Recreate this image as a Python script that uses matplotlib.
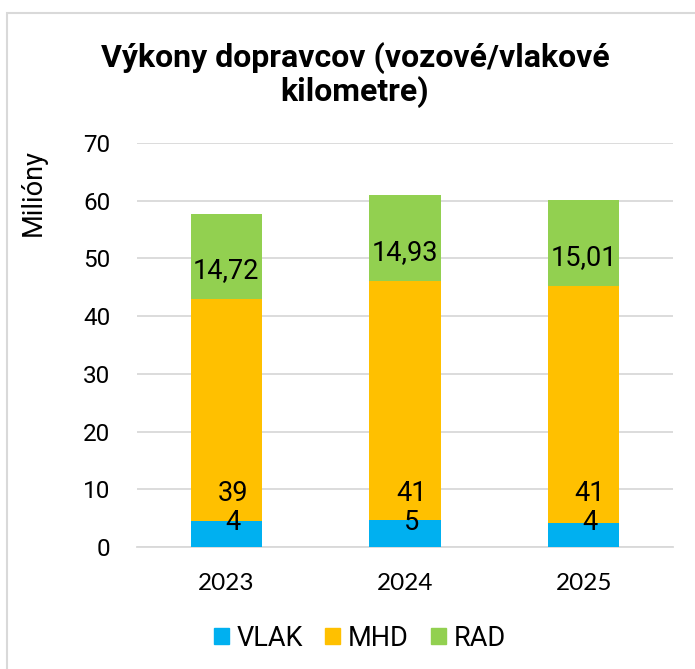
import matplotlib
matplotlib.use("Agg")
import matplotlib.pyplot as plt
from matplotlib.patches import Rectangle, Patch

years = ["2023", "2024", "2025"]
vlak = [4.45, 4.6, 4.15]
mhd = [38.55, 41.45, 41.05]
rad = [14.72, 14.93, 15.01]
vlak_labels = ["4", "5", "4"]
mhd_labels = ["39", "41", "41"]
rad_labels = ["14,72", "14,93", "15,01"]
yticks = [0, 10, 20, 30, 40, 50, 60, 70]

W, H = 695, 669
fig = plt.figure(figsize=(W / 100, H / 100), dpi=100)
fig.patch.set_facecolor("white")

ax = fig.add_axes([137 / W, 1 - 547 / H, (673 - 137) / W, (547 - 143) / H])
x = range(len(years))
c_vlak, c_mhd, c_rad = "#00B0F0", "#FFC000", "#92D050"
bw = 0.40
ax.bar(x, vlak, bw, color=c_vlak, zorder=3)
bottom2 = [a for a in vlak]
ax.bar(x, mhd, bw, bottom=bottom2, color=c_mhd, zorder=3)
bottom3 = [a + b for a, b in zip(vlak, mhd)]
ax.bar(x, rad, bw, bottom=bottom3, color=c_rad, zorder=3)

ax.set_xlim(-0.5, 2.5)
ax.set_ylim(0, 70)
ax.set_yticks(yticks)
ax.set_xticks(list(x))
ax.set_xticklabels(years, fontfamily="Lato", fontsize=17.5)
ax.tick_params(axis="y", length=0, pad=19, labelsize=17.5)
ax.tick_params(axis="x", length=0, pad=19)
for lab in ax.get_yticklabels():
    lab.set_fontfamily("Roboto")
ax.grid(axis="y", color="#d9d9d9", linewidth=1.3, zorder=0)
for s in ["top", "right", "left"]:
    ax.spines[s].set_visible(False)
ax.spines["bottom"].set_color("#d9d9d9")
ax.spines["bottom"].set_linewidth(1.3)

lab_fs = 19.5
for i in x:
    ax.annotate(vlak_labels[i], (i, 4.3), xytext=(4.5, 0), textcoords="offset points",
                ha="center", va="center", fontsize=lab_fs, fontfamily="Roboto", zorder=5)
    ax.annotate(mhd_labels[i], (i, 9.3), xytext=(4.5, 0), textcoords="offset points",
                ha="center", va="center", fontsize=lab_fs, fontfamily="Roboto", zorder=5)
    ax.text(i, bottom3[i] + rad[i] * 0.33, rad_labels[i], ha="center", va="center",
            fontsize=lab_fs, fontfamily="Roboto", zorder=5)

fig.text(33 / W, 1 - 193 / H, "Milióny", rotation=90, ha="center", va="center",
         fontsize=19.5, fontfamily="Roboto")

fig.text(355 / W, 1 - 75 / H, "Výkony dopravcov (vozové/vlakové\nkilometre)",
         ha="center", va="center", fontsize=23, fontweight="bold",
         fontfamily="Roboto", linespacing=1.1)

handles = [Patch(color=c_vlak, label="VLAK"), Patch(color=c_mhd, label="MHD"),
           Patch(color=c_rad, label="RAD")]
fig.legend(handles=handles, loc="center", bbox_to_anchor=(360 / W, 1 - 638 / H),
           ncol=3, frameon=False, prop={"family": "Roboto", "size": 19.5},
           handlelength=0.55, handleheight=0.55, handletextpad=0.3, columnspacing=0.8)

fig.add_artist(Rectangle((7 / W, -0.05), 1.1, 1 - 13 / H + 0.05, transform=fig.transFigure,
                         fill=False, edgecolor="#d9d9d9", linewidth=1.5))

fig.savefig("out.png", dpi=100)
